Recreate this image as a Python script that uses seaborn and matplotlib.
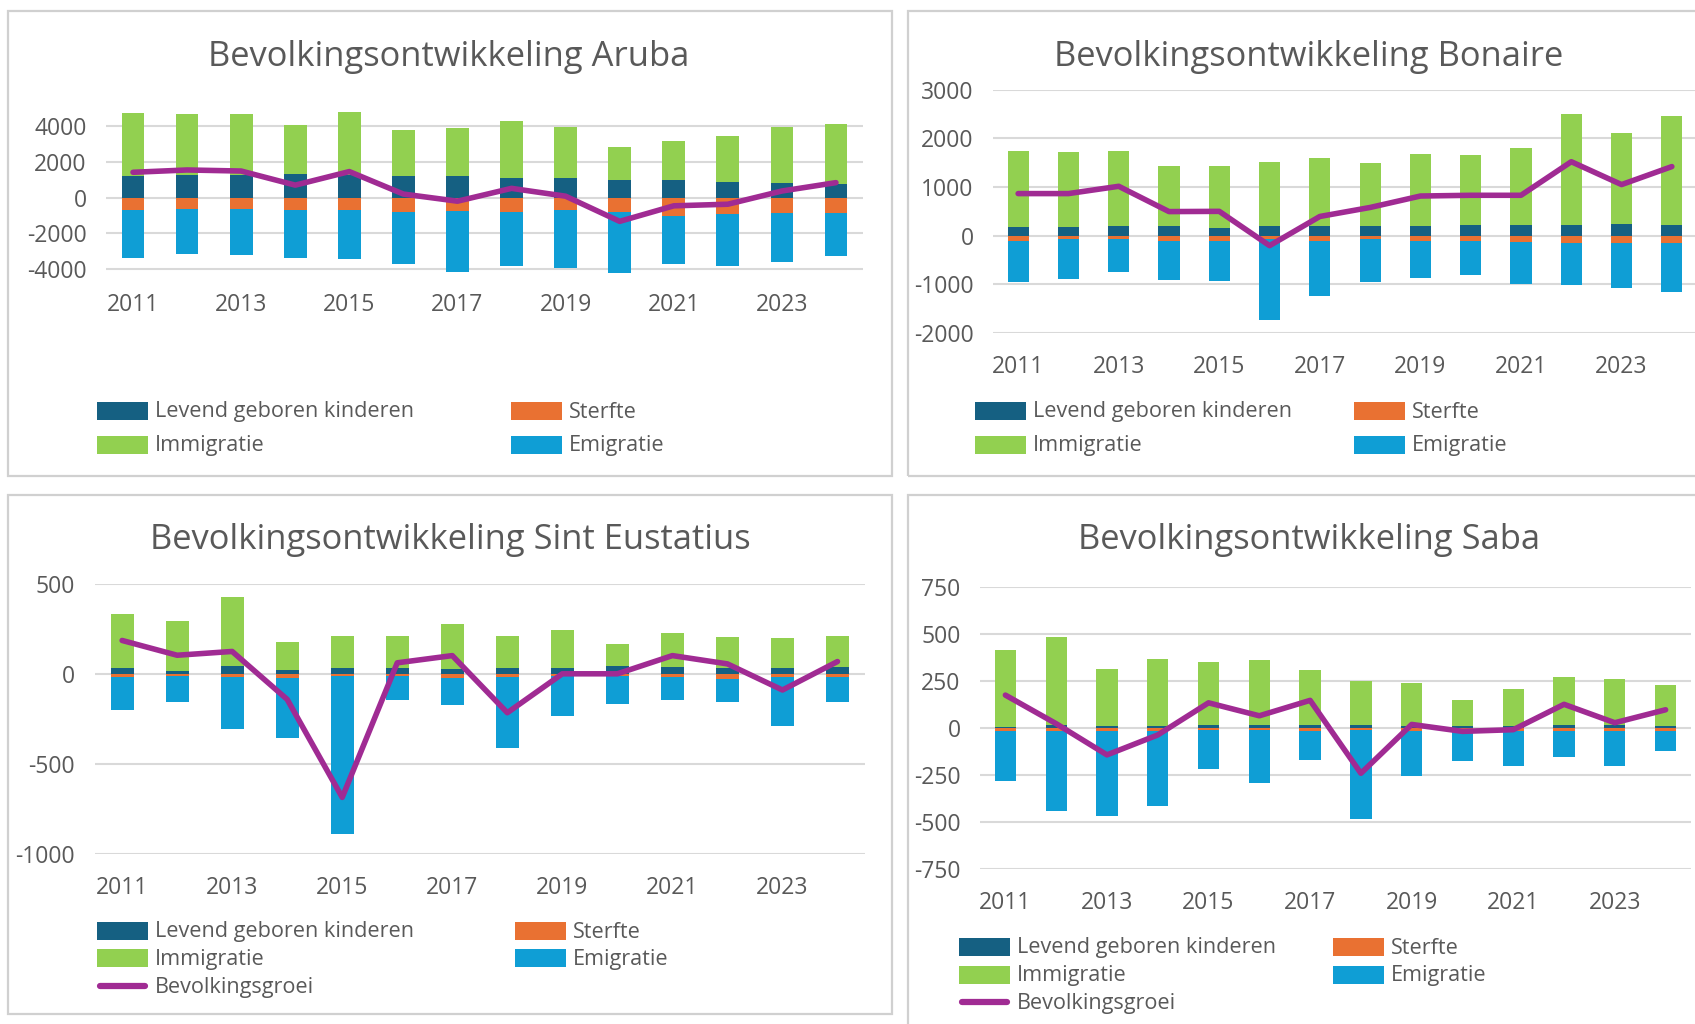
import numpy as np
import pandas as pd
import seaborn as sns
import matplotlib.pyplot as plt
from matplotlib.patches import Rectangle
from matplotlib.lines import Line2D

# data
years = list(range(2011, 2025))

aruba_geboren = [1220, 1280, 1280, 1330, 1250, 1220, 1220, 1130, 1130, 1000, 980, 880, 830, 770]
aruba_immigratie = [3530, 3420, 3440, 2760, 3580, 2590, 2710, 3190, 2840, 1860, 2200, 2570, 3120, 3340]
aruba_sterfte = [-660, -640, -600, -660, -710, -810, -750, -770, -700, -770, -1000, -900, -850, -880]
aruba_emigratie = [-2720, -2500, -2610, -2720, -2700, -2890, -3400, -3060, -3230, -3420, -2700, -2930, -2740, -2400]
aruba_groei = [1430, 1560, 1500, 710, 1470, 210, -190, 530, 90, -1320, -450, -360, 380, 850]

bonaire_geboren = [185, 185, 200, 205, 160, 200, 200, 205, 205, 225, 220, 225, 240, 225]
bonaire_immigratie = [1550, 1535, 1540, 1235, 1275, 1310, 1390, 1290, 1475, 1425, 1590, 2275, 1875, 2225]
bonaire_sterfte = [-105, -70, -75, -105, -105, -70, -105, -75, -105, -115, -130, -160, -145, -160]
bonaire_emigratie = [-855, -830, -665, -815, -830, -1665, -1130, -885, -765, -700, -855, -855, -930, -990]
bonaire_groei = [865, 865, 1015, 495, 500, -205, 395, 580, 815, 830, 830, 1520, 1050, 1420]

statia_geboren = [30, 18, 46, 20, 33, 30, 24, 30, 30, 46, 35, 30, 30, 35]
statia_immigratie = [300, 275, 382, 157, 174, 180, 255, 182, 212, 120, 194, 175, 171, 175]
statia_sterfte = [-15, -13, -18, -22, -13, -13, -22, -18, -13, -13, -18, -28, -17, -18]
statia_emigratie = [-188, -146, -288, -332, -876, -131, -151, -395, -221, -155, -130, -127, -273, -139]
statia_groei = [185, 103, 124, -142, -686, 61, 101, -216, 0, 0, 101, 55, -90, 68]

saba_geboren = [5, 14, 11, 11, 16, 16, 18, 16, 9, 9, 9, 18, 16, 11]
saba_immigratie = [412, 472, 302, 357, 336, 347, 293, 233, 233, 138, 196, 253, 244, 217]
saba_sterfte = [-18, -14, -14, -14, -11, -11, -14, -11, -14, -14, -18, -18, -14, -14]
saba_emigratie = [-262, -428, -453, -402, -208, -284, -156, -472, -241, -159, -182, -134, -186, -106]
saba_groei = [175, 23, -143, -37, 134, 65, 147, -241, 19, -18, -9, 126, 28, 97]

# colours (Office theme)
c_geboren = '#156082'
c_sterfte = '#E97132'
c_immigratie = '#92D050'
c_emigratie = '#0F9ED5'
c_groei = '#A02B93'
c_text = '#595959'
c_grid = '#D9D9D9'

sns.set_theme(style='white')
plt.rcParams['font.family'] = ['Open Sans', 'DejaVu Sans']
plt.rcParams['axes.unicode_minus'] = False

W, H = 1695, 1024
fig = plt.figure(figsize=(W / 100, H / 100), dpi=100)


def px(x, y):
    return x / W, 1 - y / H


def draw_panel(rect, geb, imm, ste, emi, groei, yticks, ylim, xpad):
    ax = fig.add_axes(rect)
    labels = [str(y) for y in years]
    df = pd.DataFrame({'jaar': labels,
                       'pos': np.array(geb) + np.array(imm),
                       'geb': geb,
                       'neg': np.array(ste) + np.array(emi),
                       'ste': ste})
    kw = dict(ax=ax, width=0.42, saturation=1, linewidth=0)
    sns.barplot(data=df, x='jaar', y='pos', color=c_immigratie, **kw)
    sns.barplot(data=df, x='jaar', y='geb', color=c_geboren, **kw)
    sns.barplot(data=df, x='jaar', y='neg', color=c_emigratie, **kw)
    sns.barplot(data=df, x='jaar', y='ste', color=c_sterfte, **kw)
    sns.lineplot(x=np.arange(len(years)), y=groei, ax=ax, color=c_groei,
                 lw=4, solid_capstyle='round', solid_joinstyle='round')
    ax.set_xlim(-0.5, len(years) - 0.5)
    ax.set_ylim(*ylim)
    ax.set_yticks(yticks)
    ax.set_yticklabels([str(t) for t in yticks])
    ax.set_xticks(range(0, len(years), 2))
    ax.set_xticklabels(labels[::2])
    ax.tick_params(length=0, labelsize=16.5, colors=c_text)
    ax.tick_params(axis='y', pad=14)
    ax.tick_params(axis='x', pad=xpad)
    ax.yaxis.grid(True, color=c_grid, lw=1.5)
    ax.set_axisbelow(True)
    ax.set_xlabel('')
    ax.set_ylabel('')
    ax.patch.set_alpha(0)
    for s in ax.spines.values():
        s.set_visible(False)
    return ax


def frame(x0, y0, x1, y1):
    fx0, fy1 = px(x0, y0)
    fx1, fy0 = px(x1, y1)
    fig.add_artist(Rectangle((fx0, fy0), fx1 - fx0, fy1 - fy0, transform=fig.transFigure,
                             fill=False, edgecolor='#D0D0D0', lw=1.6))


def legend(entries):
    for x, y, kind, col, label in entries:
        if kind == 'bar':
            fx, fy = px(x, y + 9)
            fig.add_artist(Rectangle((fx, fy), 51 / W, 18 / H, transform=fig.transFigure,
                                     facecolor=col, edgecolor='none'))
        else:
            fx0, fy = px(x + 3, y)
            fx1, _ = px(x + 48, y)
            fig.add_artist(Line2D([fx0, fx1], [fy, fy], transform=fig.transFigure,
                                  color=col, lw=4.5, solid_capstyle='round'))
        tx, ty = px(x + 58, y + 1)
        fig.text(tx, ty, label, ha='left', va='center', fontsize=15.6, color=c_text)


def legend_block(x1, x2, rows, with_line):
    entries = [(x1, rows[0], 'bar', c_geboren, 'Levend geboren kinderen'),
               (x2, rows[0], 'bar', c_sterfte, 'Sterfte'),
               (x1, rows[1], 'bar', c_immigratie, 'Immigratie'),
               (x2, rows[1], 'bar', c_emigratie, 'Emigratie')]
    if with_line:
        entries.append((x1, rows[2], 'line', c_groei, 'Bevolkingsgroei'))
    legend(entries)


# panel frames
frame(8, 11, 892, 476)
frame(908, 11, 1720, 476)
frame(8, 495, 892, 1014)
frame(908, 495, 1720, 1040)

title_kw = dict(ha='center', va='center', fontsize=24.8, color=c_text)

# Aruba
draw_panel([106 / W, 1 - 287 / H, (863 - 106) / W, (287 - 108.6) / H],
           aruba_geboren, aruba_immigratie, aruba_sterfte, aruba_emigratie, aruba_groei,
           [-4000, -2000, 0, 2000, 4000], (-5000, 5000), 4)
fig.text(*px(449, 57), 'Bevolkingsontwikkeling Aruba', **title_kw)
legend_block(97, 511, [411, 445], False)

# Bonaire
draw_panel([993 / W, 1 - 333 / H, (1697 - 993) / W, (333 - 89.7) / H],
           bonaire_geboren, bonaire_immigratie, bonaire_sterfte, bonaire_emigratie, bonaire_groei,
           [-2000, -1000, 0, 1000, 2000, 3000], (-2000, 3000), 16)
fig.text(*px(1309, 57), 'Bevolkingsontwikkeling Bonaire', **title_kw)
legend_block(975, 1354, [411, 445], False)

# Sint Eustatius
draw_panel([94.6 / W, 1 - 854 / H, (865 - 94.6) / W, (854 - 583.7) / H],
           statia_geboren, statia_immigratie, statia_sterfte, statia_emigratie, statia_groei,
           [-1000, -500, 0, 500], (-1000, 500), 16)
fig.text(*px(450, 540), 'Bevolkingsontwikkeling Sint Eustatius', **title_kw)
legend_block(97, 515, [931, 958, 986], True)

# Saba
draw_panel([980 / W, 1 - 869 / H, (1691 - 980) / W, (869 - 587) / H],
           saba_geboren, saba_immigratie, saba_sterfte, saba_emigratie, saba_groei,
           [-750, -500, -250, 0, 250, 500, 750], (-750, 750), 16)
fig.text(*px(1309, 540), 'Bevolkingsontwikkeling Saba', **title_kw)
legend_block(959, 1333, [947, 975, 1002], True)

fig.savefig('out.png', dpi=100, facecolor='white')
